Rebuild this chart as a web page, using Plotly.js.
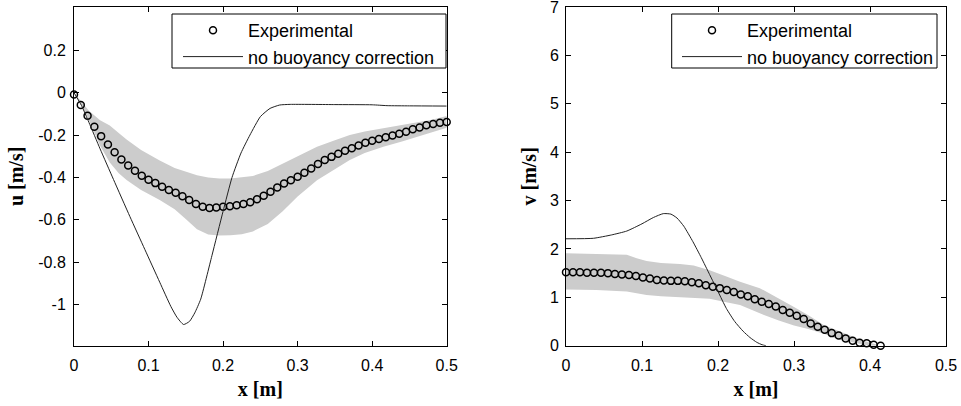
<!DOCTYPE html>
<html>
<head>
<meta charset="utf-8">
<script src="https://cdn.plot.ly/plotly-3.0.1.min.js"></script>
<style>html,body{margin:0;padding:0;background:#fff;}#chart{width:961px;height:406px;}</style>
</head>
<body>
<div id="chart"></div>
<script>
// ---------- Left panel: u ----------
const uExpX = [0,0.0091,0.0182,0.0273,0.0364,0.0455,0.0545,0.0636,0.0727,0.0818,0.0909,0.1,0.1091,0.1182,0.1273,0.1364,0.1455,0.1545,0.1636,0.1727,0.1818,0.1909,0.2,0.2091,0.2182,0.2273,0.2364,0.2455,0.2545,0.2636,0.2727,0.2818,0.2909,0.3,0.3091,0.3182,0.3273,0.3364,0.3455,0.3545,0.3636,0.3727,0.3818,0.3909,0.4,0.4091,0.4182,0.4273,0.4364,0.4455,0.4545,0.4636,0.4727,0.4818,0.4909,0.5];
const uExp = [-0.008,-0.058,-0.109,-0.161,-0.205,-0.244,-0.281,-0.315,-0.344,-0.369,-0.392,-0.411,-0.427,-0.444,-0.460,-0.473,-0.489,-0.507,-0.526,-0.539,-0.545,-0.542,-0.539,-0.536,-0.531,-0.526,-0.517,-0.503,-0.487,-0.468,-0.448,-0.429,-0.413,-0.397,-0.378,-0.358,-0.337,-0.318,-0.303,-0.288,-0.274,-0.262,-0.249,-0.236,-0.227,-0.219,-0.210,-0.202,-0.194,-0.184,-0.173,-0.164,-0.154,-0.148,-0.142,-0.138];
const uBandX = [0,0.01,0.02,0.035,0.048,0.06,0.071,0.09,0.115,0.135,0.151,0.165,0.18,0.195,0.21,0.225,0.24,0.26,0.28,0.3,0.326,0.35,0.37,0.39,0.415,0.44,0.46,0.48,0.5];
const uBandUpper = [0,-0.04,-0.085,-0.13,-0.155,-0.19,-0.222,-0.27,-0.32,-0.355,-0.375,-0.39,-0.40,-0.405,-0.405,-0.40,-0.393,-0.37,-0.336,-0.30,-0.255,-0.225,-0.20,-0.183,-0.168,-0.155,-0.142,-0.128,-0.11];
const uBandLower = [0,-0.06,-0.13,-0.25,-0.33,-0.38,-0.413,-0.46,-0.507,-0.55,-0.60,-0.645,-0.67,-0.675,-0.673,-0.668,-0.655,-0.62,-0.56,-0.49,-0.413,-0.36,-0.318,-0.285,-0.255,-0.23,-0.208,-0.188,-0.165];
const uModelX = [0,0.01,0.02,0.035,0.053,0.075,0.095,0.115,0.13,0.138,0.147,0.155,0.162,0.17,0.185,0.2,0.212,0.224,0.236,0.25,0.263,0.276,0.29,0.35,0.4,0.42,0.45,0.5];
const uModel = [0,-0.06,-0.14,-0.265,-0.41,-0.585,-0.74,-0.895,-1.01,-1.06,-1.095,-1.08,-1.04,-0.975,-0.77,-0.56,-0.40,-0.285,-0.20,-0.113,-0.074,-0.058,-0.055,-0.056,-0.057,-0.061,-0.062,-0.063];

// ---------- Right panel: v ----------
const vExpX = [0,0.0092,0.0184,0.0276,0.0368,0.046,0.0552,0.0644,0.0736,0.0828,0.092,0.1012,0.1104,0.1196,0.1288,0.138,0.1472,0.1564,0.1656,0.1748,0.184,0.1932,0.2024,0.2116,0.2208,0.23,0.2392,0.2484,0.2576,0.2668,0.276,0.2852,0.2944,0.3036,0.3128,0.322,0.3312,0.3404,0.3496,0.3588,0.368,0.3772,0.3864,0.3956,0.4048,0.414,0.4232];
const vExp = [1.52,1.52,1.52,1.51,1.51,1.51,1.50,1.48,1.47,1.46,1.44,1.41,1.39,1.36,1.35,1.34,1.34,1.33,1.31,1.29,1.25,1.22,1.19,1.15,1.11,1.06,1.02,0.96,0.91,0.86,0.81,0.74,0.68,0.62,0.55,0.46,0.39,0.33,0.26,0.21,0.15,0.10,0.06,0.05,0.02,0.00,-0.02];
const vBandX = [0,0.04,0.08,0.093,0.106,0.125,0.15,0.168,0.189,0.211,0.229,0.255,0.28,0.3,0.32,0.34,0.36,0.38,0.4,0.41];
const vBandUpper = [1.91,1.90,1.88,1.81,1.75,1.71,1.69,1.66,1.56,1.43,1.32,1.19,0.98,0.80,0.62,0.42,0.30,0.17,0.06,0.02];
const vBandLower = [1.16,1.15,1.12,1.08,1.05,1.02,1.00,0.99,0.97,0.90,0.84,0.67,0.52,0.42,0.34,0.24,0.13,0.06,0.0,0.0];
const vModelX = [0,0.036,0.06,0.08,0.10,0.115,0.128,0.138,0.146,0.155,0.167,0.178,0.189,0.2,0.211,0.222,0.233,0.242,0.251,0.258,0.263];
const vModel = [2.21,2.22,2.29,2.37,2.52,2.65,2.73,2.72,2.64,2.47,2.15,1.82,1.47,1.12,0.77,0.50,0.30,0.17,0.07,0.02,0];

// ---------- Ticks & labels ----------
const xTickVals = [0,0.1,0.2,0.3,0.4,0.5];
const xTickText = ['0','0.1','0.2','0.3','0.4','0.5'];
const uTickVals = [-1,-0.8,-0.6,-0.4,-0.2,0,0.2];
const uTickText = ['-1','-0.8','-0.6','-0.4','-0.2','0','0.2'];
const vTickVals = [0,1,2,3,4,5,6,7];
const vTickText = ['0','1','2','3','4','5','6','7'];
const seriesNames = ['Experimental','no buoyancy correction'];

const bandColor = '#cccccc';
const mk = {symbol:'circle-open', size:7, color:'#000', line:{width:1.5, color:'#000'}};
const lineStyle = {width:1, color:'#222', shape:'spline', smoothing:0.5};

const traces = [
  {x:uBandX, y:uBandLower, xaxis:'x', yaxis:'y', mode:'lines', line:{width:0,color:bandColor}, showlegend:false, hoverinfo:'skip'},
  {x:uBandX, y:uBandUpper, xaxis:'x', yaxis:'y', mode:'lines', line:{width:0,color:bandColor}, fill:'tonexty', fillcolor:bandColor, showlegend:false, hoverinfo:'skip'},
  {x:uExpX, y:uExp, xaxis:'x', yaxis:'y', mode:'markers', marker:mk, name:seriesNames[0], cliponaxis:false, legend:'legend'},
  {x:uModelX, y:uModel, xaxis:'x', yaxis:'y', mode:'lines', line:lineStyle, name:seriesNames[1], legend:'legend'},

  {x:vBandX, y:vBandLower, xaxis:'x2', yaxis:'y2', mode:'lines', line:{width:0,color:bandColor}, showlegend:false, hoverinfo:'skip'},
  {x:vBandX, y:vBandUpper, xaxis:'x2', yaxis:'y2', mode:'lines', line:{width:0,color:bandColor}, fill:'tonexty', fillcolor:bandColor, showlegend:false, hoverinfo:'skip'},
  {x:vExpX, y:vExp, xaxis:'x2', yaxis:'y2', mode:'markers', marker:mk, name:seriesNames[0], cliponaxis:false, legend:'legend2'},
  {x:vModelX, y:vModel, xaxis:'x2', yaxis:'y2', mode:'lines', line:lineStyle, name:seriesNames[1], legend:'legend2'}
];

const W = 961, H = 406;
const tickFont = {family:'Liberation Sans, Arial, sans-serif', size:16, color:'#000'};
const titleFont = {family:'Liberation Serif, Times New Roman, serif', size:20, color:'#000', weight:'bold'};
function axisCommon(){
  return {showline:true, linecolor:'#000', linewidth:1, mirror:'ticks', ticks:'inside', ticklen:5, tickwidth:1, tickcolor:'#000',
          showgrid:false, zeroline:false, tickfont:tickFont, fixedrange:true, automargin:false, ticklabeloverflow:'allow'};
}
const legendFont = {family:'Liberation Sans, Arial, sans-serif', size:18, color:'#000'};
function legendAt(textLeftPx){
  return {x:(textLeftPx-68)/W, xanchor:'left', y:(H-12)/H, yanchor:'top', bgcolor:'rgba(0,0,0,0)', borderwidth:0,
          font:legendFont, tracegroupgap:0, itemwidth:60, traceorder:'normal'};
}
function boxShape(x0,x1){
  return {type:'rect', xref:'paper', yref:'paper', x0:x0/W, x1:x1/W, y0:(H-68)/H, y1:(H-14)/H,
          line:{color:'#000', width:1}, fillcolor:'#fff', layer:'above'};
}
const layout = {
  width:W, height:H, margin:{l:0,r:0,t:0,b:0},
  paper_bgcolor:'#fff', plot_bgcolor:'#fff',
  showlegend:true,
  xaxis:Object.assign(axisCommon(), {domain:[74/W, 446.7/W], range:[0,0.5], tickvals:xTickVals, ticktext:xTickText, anchor:'y',
        ticklabelstandoff:5, title:{text:'x [m]', font:titleFont, standoff:9}}),
  yaxis:Object.assign(axisCommon(), {domain:[(H-345.7)/H, (H-7)/H], range:[-1.195,0.405], tickvals:uTickVals, ticktext:uTickText, anchor:'x',
        ticklabelstandoff:4, title:{text:'u [m/s]', font:titleFont, standoff:9}}),
  xaxis2:Object.assign(axisCommon(), {domain:[566/W, 946/W], range:[0,0.5], tickvals:xTickVals, ticktext:xTickText, anchor:'y2',
        ticklabelstandoff:5, title:{text:'x [m]', font:titleFont, standoff:9}}),
  yaxis2:Object.assign(axisCommon(), {domain:[(H-345.7)/H, (H-7)/H], range:[0,7.001], tickvals:vTickVals, ticktext:vTickText, anchor:'x2',
        ticklabelstandoff:3, title:{text:'v [m/s]', font:titleFont, standoff:7}}),
  legend:legendAt(246),
  legend2:legendAt(745),
  shapes:[boxShape(172,446), boxShape(671.7,937)]
};
Plotly.newPlot('chart', traces, layout, {staticPlot:true, displayModeBar:false});
</script>
</body>
</html>
